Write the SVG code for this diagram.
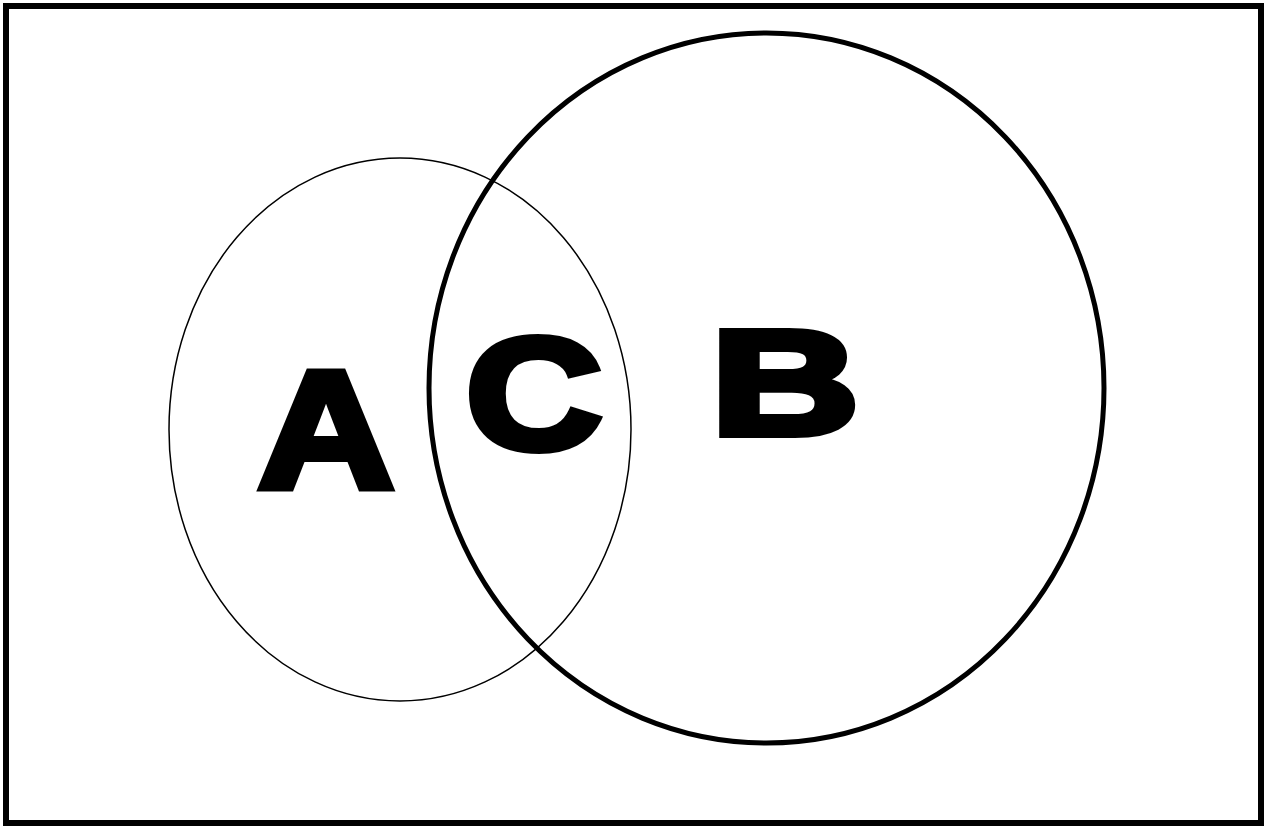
<svg xmlns="http://www.w3.org/2000/svg" width="1273" height="826" viewBox="0 0 1273 826">
<style>
.lbl{font-family:"Liberation Sans",Arial,sans-serif;font-weight:bold;fill:#000;stroke:#000;stroke-width:8;stroke-linejoin:miter;stroke-miterlimit:3;text-anchor:middle}
</style>
<rect x="0" y="0" width="1273" height="826" fill="#fff"/>
<rect id="frame" x="6" y="6" width="1255" height="817" fill="none" stroke="#000" stroke-width="6"/>
<g id="setA">
<ellipse cx="400" cy="429.5" rx="231" ry="271.5" fill="none" stroke="#000" stroke-width="1.5"/>
<text class="lbl" x="326" y="487" font-size="167" textLength="136" lengthAdjust="spacingAndGlyphs">A</text>
</g>
<g id="setB">
<ellipse cx="766.5" cy="388" rx="337.5" ry="355" fill="none" stroke="#000" stroke-width="5"/>
<text class="lbl" x="785" y="434" font-size="149" textLength="148" lengthAdjust="spacingAndGlyphs">B</text>
</g>
<g id="setC">
<text class="lbl" x="534" y="448" font-size="158" textLength="136" lengthAdjust="spacingAndGlyphs">C</text>
</g>
<g id="connectors"></g>
</svg>
